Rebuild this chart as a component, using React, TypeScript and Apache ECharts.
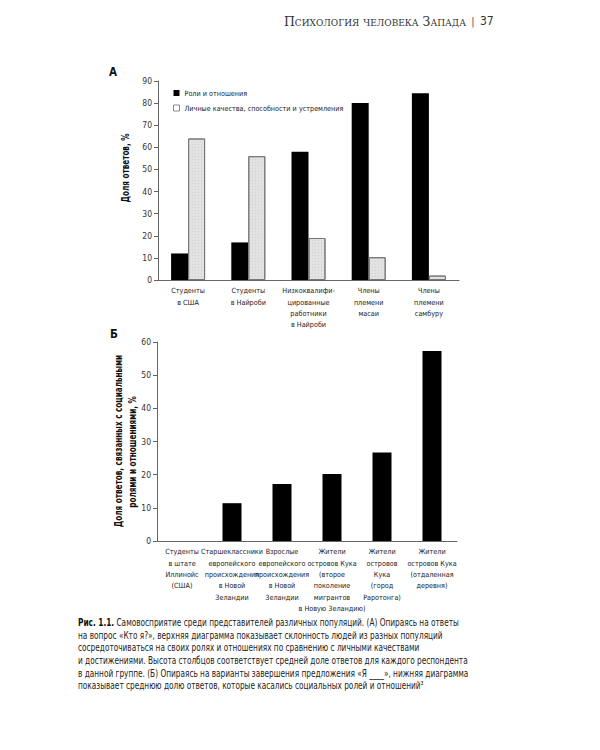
import React, { useEffect, useRef } from "react";
import * as echarts from "echarts";

const FONT = "'DejaVu Sans Condensed', 'Liberation Sans Narrow', sans-serif";
const SERIF = "'DejaVu Serif', 'Liberation Serif', serif";

const headerTitle = "Психология человека Запада";
const headerSep = "|";
const headerPage = "37";

const panelLabelA = "А";
const panelLabelB = "Б";

const categoriesA = [
  "Студенты\nв США",
  "Студенты\nв Найроби",
  "Низкоквалифи-\nцированные\nработники\nв Найроби",
  "Члены\nплемени\nмасаи",
  "Члены\nплемени\nсамбуру",
];
const legendA = ["Роли и отношения", "Личные качества, способности и устремления"];
const rolesA = [12, 17, 58, 80, 84.5];
const traitsA = [64, 56, 19, 10.3, 2];
const yTitleA = "Доля ответов, %";

const categoriesB = [
  "Студенты\nв штате\nИллинойс\n(США)",
  "Старшеклассники\nевропейского\nпроисхождения\nв Новой\nЗеландии",
  "Взрослые\nевропейского\nпроисхождения\nв Новой\nЗеландии",
  "Жители\nостровов Кука\n(второе\nпоколение\nмигрантов\nв Новую Зеландию)",
  "Жители\nостровов\nКука\n(город\nРаротонга)",
  "Жители\nостровов Кука\n(отдаленная\nдеревня)",
];
const valuesB = [0, 11.4, 17.2, 20.2, 26.7, 57.3];
const yTitleB = ["Доля ответов, связанных с социальными", "ролями и отношениями, %"];

const captionLead = "Рис. 1.1.";
const captionLines = [
  "Самовосприятие среди представителей различных популяций. (А) Опираясь на ответы",
  "на вопрос «Кто я?», верхняя диаграмма показывает склонность людей из разных популяций",
  "сосредоточиваться на своих ролях и отношениях по сравнению с личными качествами",
  "и достижениями. Высота столбцов соответствует средней доле ответов для каждого респондента",
  "в данной группе. (Б) Опираясь на варианты завершения предложения «Я ____», нижняя диаграмма",
  "показывает среднюю долю ответов, которые касались социальных ролей и отношений³",
];

export default function App() {
  const ref = useRef<HTMLDivElement>(null);

  useEffect(() => {
    if (!ref.current) return;
    const chart = echarts.init(ref.current, undefined, { renderer: "svg" });

    const axisLineStyle = { color: "#666", width: 1 };
    const xLabel = {
      interval: 0,
      fontSize: 7.2,
      lineHeight: 11.4,
      color: "#222",
      margin: 5,
      fontFamily: FONT,
    };
    const yLabel = { fontSize: 8.5, color: "#333", margin: 6, fontFamily: FONT };

    const titleStyle = {
      fontSize: 10.5,
      fontWeight: "bold",
      fontFamily: FONT,
      fill: "#111",
      textAlign: "center",
      textVerticalAlign: "middle",
    };

    const graphic: any[] = [
      {
        type: "text",
        x: 466,
        y: 21,
        style: {
          text: headerTitle,
          font: "small-caps 12.5px " + SERIF,
          fill: "#333",
          textAlign: "right",
          textVerticalAlign: "middle",
        },
      },
      {
        type: "text",
        x: 473,
        y: 21,
        style: { text: headerSep, fontSize: 11, fontFamily: FONT, fill: "#555", textAlign: "center", textVerticalAlign: "middle" },
      },
      {
        type: "text",
        x: 480,
        y: 21,
        style: { text: headerPage, fontSize: 12, fontFamily: FONT, fill: "#333", textAlign: "left", textVerticalAlign: "middle" },
      },
      {
        type: "text",
        x: 113,
        y: 72,
        style: { text: panelLabelA, fontSize: 11.5, fontWeight: "bold", fontFamily: FONT, fill: "#111", textAlign: "center", textVerticalAlign: "middle" },
      },
      {
        type: "text",
        x: 114,
        y: 334,
        style: { text: panelLabelB, fontSize: 11.5, fontWeight: "bold", fontFamily: FONT, fill: "#111", textAlign: "center", textVerticalAlign: "middle" },
      },
      {
        type: "text",
        x: 125,
        y: 168,
        rotation: Math.PI / 2,
        scaleX: 0.77,
        style: { text: yTitleA, ...titleStyle },
      },
      {
        type: "text",
        x: 118,
        y: 441,
        rotation: Math.PI / 2,
        scaleX: 0.77,
        style: { text: yTitleB[0], ...titleStyle },
      },
      {
        type: "text",
        x: 132,
        y: 452,
        rotation: Math.PI / 2,
        scaleX: 0.77,
        style: { text: yTitleB[1], ...titleStyle },
      },
    ];

    captionLines.forEach((line, i) => {
      graphic.push({
        type: "text",
        x: 78,
        y: 622 + i * 12.7,
        scaleX: 0.78,
        style: {
          text: i === 0 ? "{b|" + captionLead + "} " + line : line,
          fontSize: 10.5,
          fontFamily: FONT,
          fill: "#222",
          textAlign: "left",
          textVerticalAlign: "middle",
          rich: { b: { fontWeight: "bold", fontSize: 10.5, fontFamily: FONT, fill: "#111" } },
        },
      });
    });

    chart.setOption({
      animation: false,
      backgroundColor: "#fff",
      textStyle: { fontFamily: FONT },
      legend: {
        left: 168,
        top: 83,
        orient: "vertical",
        itemWidth: 6,
        itemHeight: 6,
        itemGap: 5,
        icon: "rect",
        textStyle: { fontSize: 7.2, color: "#222", fontFamily: FONT, lineHeight: 10 },
        data: [
          { name: legendA[0], itemStyle: { color: "#000" } },
          { name: legendA[1], itemStyle: { color: "#fff", borderColor: "#888", borderWidth: 1, decal: "none" } },
        ],
      },
      grid: [
        { left: 158, top: 81, width: 301, height: 199 },
        { left: 157, top: 342, width: 300, height: 199 },
      ],
      xAxis: [
        {
          type: "category",
          gridIndex: 0,
          data: categoriesA,
          axisLine: { lineStyle: axisLineStyle },
          axisTick: { show: false },
          axisLabel: xLabel,
        },
        {
          type: "category",
          gridIndex: 1,
          data: categoriesB,
          axisLine: { lineStyle: axisLineStyle },
          axisTick: { show: false },
          axisLabel: xLabel,
        },
      ],
      yAxis: [
        {
          type: "value",
          gridIndex: 0,
          min: 0,
          max: 90,
          interval: 10,
          splitLine: { show: false },
          axisLine: { show: true, lineStyle: axisLineStyle },
          axisTick: { show: true, length: 4, lineStyle: axisLineStyle },
          axisLabel: yLabel,
        },
        {
          type: "value",
          gridIndex: 1,
          min: 0,
          max: 60,
          interval: 10,
          splitLine: { show: false },
          axisLine: { show: true, lineStyle: axisLineStyle },
          axisTick: { show: true, length: 4, lineStyle: axisLineStyle },
          axisLabel: yLabel,
        },
      ],
      series: [
        {
          name: legendA[0],
          type: "bar",
          xAxisIndex: 0,
          yAxisIndex: 0,
          data: rolesA,
          barWidth: 17,
          barGap: "0%",
          itemStyle: { color: "#000" },
        },
        {
          name: legendA[1],
          type: "bar",
          xAxisIndex: 0,
          yAxisIndex: 0,
          data: traitsA,
          barWidth: 17,
          barGap: "0%",
          itemStyle: {
            color: "#e2e2e2",
            borderColor: "#777",
            borderWidth: 1,
            decal: {
              symbol: "rect",
              symbolSize: 0.6,
              color: "rgba(110,110,110,0.5)",
              dashArrayX: [1, 2],
              dashArrayY: [1, 2],
              rotation: 0,
            },
          },
        },
        {
          name: "B",
          type: "bar",
          xAxisIndex: 1,
          yAxisIndex: 1,
          data: valuesB,
          barWidth: 19,
          itemStyle: { color: "#000" },
        },
      ],
      graphic,
    });

    return () => chart.dispose();
  }, []);

  return (
    <div
      ref={ref}
      style={{ position: "absolute", left: 0, top: 0, width: 600, height: 750, background: "#fff" }}
    />
  );
}
